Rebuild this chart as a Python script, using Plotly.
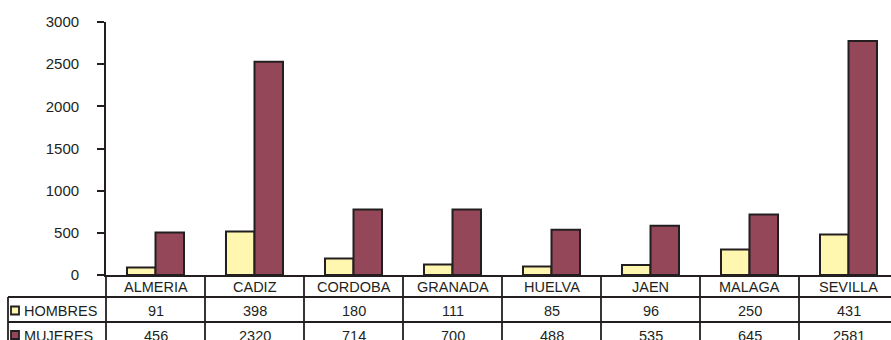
import plotly.graph_objects as go

# ---- data ----
categories = ["ALMERIA", "CADIZ", "CORDOBA", "GRANADA", "HUELVA", "JAEN", "MALAGA", "SEVILLA"]
series_names = ["HOMBRES", "MUJERES"]
# bar heights as drawn in the picture
hombres_bars = [90, 515, 196, 125, 101, 118, 303, 481]
mujeres_bars = [505, 2528, 777, 777, 536, 584, 718, 2774]
# values printed in the data table
hombres_table = [91, 398, 180, 111, 85, 96, 250, 431]
mujeres_table = [456, 2320, 714, 700, 488, 535, 645, 2581]
y_ticks = [0, 500, 1000, 1500, 2000, 2500, 3000]

# ---- style ----
W, H = 891, 340
L, R, T, B = 106, 0, 22, 65
PW, PH = W - L - R, H - T - B
YELLOW = "#FFF7AF"
MAROON = "#934759"
INK = "#231F20"
FONT = "Liberation Sans, Arial, sans-serif"

def py(p):  # pixel row -> paper y
    return (H - B - p) / PH

def px(p):  # pixel col -> paper x
    return (p - L) / PW

fig = go.Figure()
fig.add_bar(x=categories, y=hombres_bars, name=series_names[0],
            marker=dict(color=YELLOW, line=dict(color=INK, width=2)))
fig.add_bar(x=categories, y=mujeres_bars, name=series_names[1],
            marker=dict(color=MAROON, line=dict(color=INK, width=2)))

shapes = []
annotations = []
line = dict(color=INK, width=1.8)

# horizontal table lines
for p in (297, 322, 346):
    shapes.append(dict(type="line", xref="paper", yref="paper",
                       x0=px(8), x1=1.0, y0=py(p), y1=py(p), line=line))
# left border lines
shapes.append(dict(type="line", xref="paper", yref="paper",
                   x0=px(8), x1=px(8), y0=py(297), y1=py(350), line=line))
shapes.append(dict(type="line", xref="paper", yref="paper",
                   x0=0, x1=0, y0=0, y1=py(350), line=line))
# column separators
for i in range(len(categories) - 1):
    shapes.append(dict(type="line", xref="x", yref="paper",
                       x0=i + 0.5, x1=i + 0.5, y0=0, y1=py(350), line=line))

# legend keys in the table
for name, color, pr in ((series_names[0], YELLOW, 310.5), (series_names[1], MAROON, 335)):
    shapes.append(dict(type="rect", xref="paper", yref="paper",
                       x0=px(11), x1=px(19), y0=py(pr - 4), y1=py(pr + 4),
                       fillcolor=color, line=dict(color=INK, width=1.8)))
    annotations.append(dict(xref="paper", yref="paper", x=px(22), y=py(pr + 0.5),
                            text=name, showarrow=False, xanchor="left", yanchor="middle",
                            font=dict(family=FONT, size=14.5, color=INK)))

for i, c in enumerate(categories):
    annotations.append(dict(xref="x", yref="paper", x=c, y=py(286.5), text=c,
                            showarrow=False, xanchor="center", yanchor="middle",
                            font=dict(family=FONT, size=14.5, color=INK)))
    annotations.append(dict(xref="x", yref="paper", x=c, y=py(311), text=str(hombres_table[i]),
                            showarrow=False, xanchor="center", yanchor="middle",
                            font=dict(family=FONT, size=14.5, color=INK)))
    annotations.append(dict(xref="x", yref="paper", x=c, y=py(335.5), text=str(mujeres_table[i]),
                            showarrow=False, xanchor="center", yanchor="middle",
                            font=dict(family=FONT, size=14.5, color=INK)))

fig.update_layout(
    width=W, height=H,
    margin=dict(l=L, r=R, t=T, b=B, pad=0),
    paper_bgcolor="white", plot_bgcolor="white",
    showlegend=False,
    barmode="group", bargap=0.424, bargroupgap=0,
    shapes=shapes, annotations=annotations,
    xaxis=dict(range=[-0.5, -0.5 + PW / 99], showticklabels=False, ticks="",
               showgrid=False, zeroline=False, showline=True, linecolor=INK,
               linewidth=2, fixedrange=True),
    yaxis=dict(range=[0, 3000], tickvals=y_ticks, ticks="outside", ticklen=7,
               tickwidth=1.8, tickcolor=INK, showgrid=False, zeroline=False,
               showline=True, linecolor=INK, linewidth=1.8,
               ticklabelstandoff=15, fixedrange=True,
               tickfont=dict(family=FONT, size=15, color=INK)),
    font=dict(family=FONT, color=INK),
)

fig.write_html("out.html", config={"displayModeBar": False},
               post_script="document.body.style.margin='0';document.body.style.overflow='hidden';")
